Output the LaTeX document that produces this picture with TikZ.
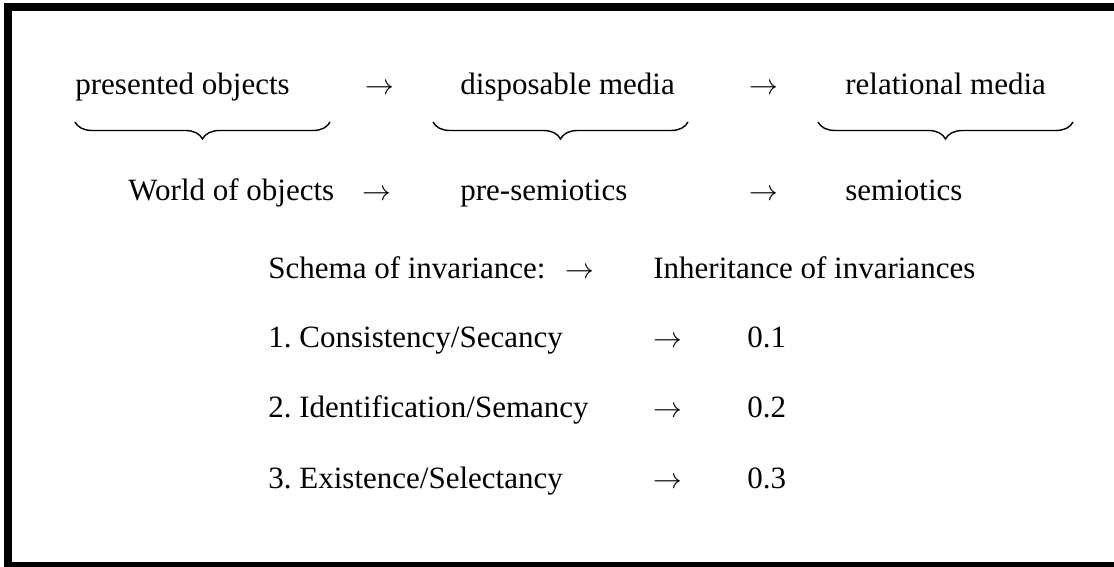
\documentclass[tikz,border=0pt]{standalone}
\usepackage{fontspec}
\setmainfont{Liberation Serif}
\usetikzlibrary{positioning,decorations.pathreplacing}

\begin{document}
\begin{tikzpicture}[x=0.5pt,y=-0.5pt, every node/.style={font=\fontsize{15.5}{18}\selectfont\frenchspacing}]
		\tikzstyle{word}=[anchor=base west, inner sep=0pt]
		\tikzstyle{curly}=[decorate, decoration={brace, mirror, amplitude=8.5pt}, line width=0.7pt]
		\useasboundingbox (0,0) rectangle (1114,567);
		% frame
		\draw[line width=4pt] (8,567) -- (8,7) -- (1114,7);
		\draw[line width=4pt] (4,566) -- (1114,566);
		% first row
		\node[word] (pres) at (75,95) {presented objects};
		\node[word] (a1) at (365,95) {$\rightarrow$};
		\node[word] (disp) at (460,95) {disposable media};
		\node[word] (a2) at (749,95) {$\rightarrow$};
		\node[word] (rel) at (845,95) {relational media};
		% braces
		\coordinate (b1l) at (75,122); \coordinate (b1r) at (330,122);
		\coordinate (b2l) at (433,122); \coordinate (b2r) at (688,122);
		\coordinate (b3l) at (818,122); \coordinate (b3r) at (1073,122);
		\draw[curly] (b1l) -- (b1r);
		\draw[curly] (b2l) -- (b2r);
		\draw[curly] (b3l) -- (b3r);
		% second row
		\node[word] (world) at (128,200) {World of objects};
		\node[word] (a3) at (362,200) {$\rightarrow$};
		\node[word] (pre) at (460,200) {pre-semiotics};
		\node[word] (a4) at (749,200) {$\rightarrow$};
		\node[word] (sem) at (845,200) {semiotics};
		% schema
		\node[word] (schema) at (268,278) {Schema of invariance:};
		\node[word] (a5) at (565,278) {$\rightarrow$};
		\node[word] (inh) at (653,278) {Inheritance of invariances};
		\node[word] (c1) at (268,347) {1. Consistency/Secancy};
		\node[word] (a6) at (653,347) {$\rightarrow$};
		\node[word] (v1) at (747,347) {0.1};
		\node[word] (c2) at (268,417) {2. Identification/Semancy};
		\node[word] (a7) at (653,417) {$\rightarrow$};
		\node[word] (v2) at (747,417) {0.2};
		\node[word] (c3) at (268,488) {3. Existence/Selectancy};
		\node[word] (a8) at (653,488) {$\rightarrow$};
		\node[word] (v3) at (747,488) {0.3};
	\end{tikzpicture}
\end{document}
